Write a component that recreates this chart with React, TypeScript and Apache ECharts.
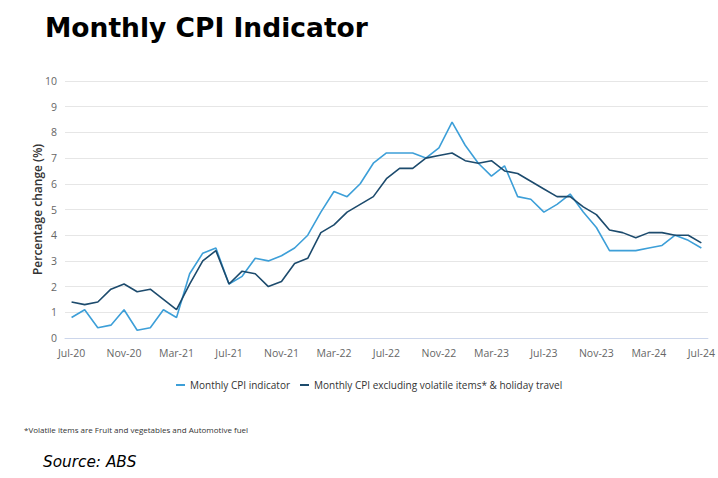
import React, { useEffect, useRef } from "react";
import * as echarts from "echarts";

const months: string[] = [
  "Jul-20","Aug-20","Sep-20","Oct-20","Nov-20","Dec-20","Jan-21","Feb-21","Mar-21","Apr-21","May-21","Jun-21",
  "Jul-21","Aug-21","Sep-21","Oct-21","Nov-21","Dec-21","Jan-22","Feb-22","Mar-22","Apr-22","May-22","Jun-22",
  "Jul-22","Aug-22","Sep-22","Oct-22","Nov-22","Dec-22","Jan-23","Feb-23","Mar-23","Apr-23","May-23","Jun-23",
  "Jul-23","Aug-23","Sep-23","Oct-23","Nov-23","Dec-23","Jan-24","Feb-24","Mar-24","Apr-24","May-24","Jun-24",
  "Jul-24",
];

const monthlyCpi: number[] = [
  0.8, 1.1, 0.4, 0.5, 1.1, 0.3, 0.4, 1.1, 0.8, 2.5, 3.3, 3.5,
  2.1, 2.4, 3.1, 3.0, 3.2, 3.5, 4.0, 4.9, 5.7, 5.5, 6.0, 6.8,
  7.2, 7.2, 7.2, 7.0, 7.4, 8.4, 7.5, 6.8, 6.3, 6.7, 5.5, 5.4,
  4.9, 5.2, 5.6, 4.9, 4.3, 3.4, 3.4, 3.4, 3.5, 3.6, 4.0, 3.8,
  3.5,
];

const monthlyCpiExVolatile: number[] = [
  1.4, 1.3, 1.4, 1.9, 2.1, 1.8, 1.9, 1.5, 1.1, 2.1, 3.0, 3.4,
  2.1, 2.6, 2.5, 2.0, 2.2, 2.9, 3.1, 4.1, 4.4, 4.9, 5.2, 5.5,
  6.2, 6.6, 6.6, 7.0, 7.1, 7.2, 6.9, 6.8, 6.9, 6.5, 6.4, 6.1,
  5.8, 5.5, 5.5, 5.1, 4.8, 4.2, 4.1, 3.9, 4.1, 4.1, 4.0, 4.0,
  3.7,
];

const seriesNames: string[] = [
  "Monthly CPI indicator",
  "Monthly CPI excluding volatile items* & holiday travel",
];

const SANS = "'Open Sans', sans-serif";

export default function App() {
  const ref = useRef<HTMLDivElement>(null);

  useEffect(() => {
    if (!ref.current) return;
    const chart = echarts.init(ref.current, undefined, { renderer: "svg" });
    chart.setOption({
      animation: false,
      backgroundColor: "#ffffff",
      title: {
        text: "Monthly CPI Indicator",
        left: 40,
        top: 9,
        textStyle: {
          fontFamily: "'DejaVu Sans', Verdana, sans-serif",
          fontWeight: "bold",
          fontSize: 26.5,
          color: "#000000",
        },
      },
      legend: {
        data: seriesNames,
        top: 375,
        left: 171,
        icon: "rect",
        itemWidth: 9,
        itemHeight: 2,
        itemGap: 10,
        itemStyle: { borderWidth: 0 },
        textStyle: { fontFamily: SANS, fontSize: 10, color: "#333333" },
      },
      grid: { left: 65, right: 10, top: 81, bottom: 140 },
      xAxis: {
        type: "category",
        data: months,
        boundaryGap: true,
        axisLine: { show: true, lineStyle: { color: "#ccd6eb", width: 1 } },
        axisTick: { show: false },
        axisLabel: {
          interval: 3,
          fontFamily: SANS,
          fontSize: 10.5,
          color: "#666666",
          margin: 9,
        },
      },
      yAxis: {
        type: "value",
        min: 0,
        max: 10,
        interval: 1,
        name: "Percentage change (%)",
        nameLocation: "middle",
        nameGap: 22,
        nameMoveOverlap: false,
        nameTextStyle: {
          fontFamily: SANS,
          fontWeight: 600,
          fontSize: 12,
          color: "#333333",
        },
        axisLine: { show: false },
        axisTick: { show: false },
        axisLabel: { fontFamily: SANS, fontSize: 10.5, color: "#666666", margin: 8 },
        splitLine: { lineStyle: { color: "#e6e6e6", width: 1 } },
      },
      series: [
        {
          name: seriesNames[0],
          type: "line",
          data: monthlyCpi,
          showSymbol: false,
          symbol: "none",
          lineStyle: { color: "#3d9fd8", width: 1.6 },
          itemStyle: { color: "#3d9fd8" },
        },
        {
          name: seriesNames[1],
          type: "line",
          data: monthlyCpiExVolatile,
          showSymbol: false,
          symbol: "none",
          lineStyle: { color: "#1d4b6d", width: 1.6 },
          itemStyle: { color: "#1d4b6d" },
        },
      ],
      graphic: [
        {
          type: "text",
          left: 24,
          top: 425,
          style: {
            text: "*Volatile items are Fruit and vegetables and Automotive fuel",
            fontFamily: SANS,
            fontSize: 8,
            fill: "#333333",
          },
        },
        {
          type: "text",
          left: 43,
          top: 454,
          style: {
            text: "Source: ABS",
            fontFamily: "'DejaVu Sans', Verdana, sans-serif",
            fontStyle: "italic",
            fontSize: 15.3,
            fill: "#000000",
          },
        },
      ],
    });
    return () => chart.dispose();
  }, []);

  return (
    <div
      ref={ref}
      style={{ position: "fixed", left: 0, top: 0, width: 718, height: 478, background: "#fff" }}
    />
  );
}
